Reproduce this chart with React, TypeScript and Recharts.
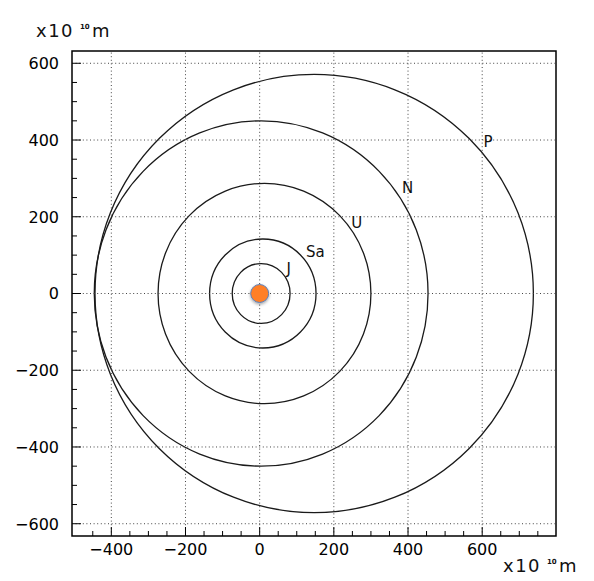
import {
  ScatterChart,
  Scatter,
  XAxis,
  YAxis,
  ReferenceArea,
  ReferenceLine,
} from "recharts";

// orbit extents, units of 10^10 m (perihelion on the left, sun at the focus)
const planets = ["Jupiter", "Saturn", "Uranus", "Neptune", "Pluto"];
const perihelion = [74, 135, 274, 446, 444];
const aphelion = [82, 152, 300, 454, 738];
const semiMinor = [78, 142, 287, 450, 571];

const labelText = ["J", "Sa", "U", "N", "P"];
const labelX = [78, 150, 262, 399, 616];
const labelY = [66, 109, 185, 275, 396];

const sun = [{ x: 0, y: 0 }];

const xTicks = [
  -450, -400, -350, -300, -250, -200, -150, -100, -50, 0, 50, 100, 150, 200,
  250, 300, 350, 400, 450, 500, 550, 600, 650, 700, 750,
];
const yTicks = [
  -600, -550, -500, -450, -400, -350, -300, -250, -200, -150, -100, -50, 0, 50,
  100, 150, 200, 250, 300, 350, 400, 450, 500, 550, 600,
];
const xGrid = [-400, -200, 0, 200, 400, 600];
const yGrid = [-600, -400, -200, 0, 200, 400, 600];

const xDomain: [number, number] = [-506, 799];
const yDomain: [number, number] = [-632, 632];

const FONT = "'DejaVu Sans', 'Liberation Sans', sans-serif";

const fmt = (v: number) => (v < 0 ? `\u2212${Math.abs(v)}` : `${v}`);

const XTick = (props: any) => {
  const { x, y, payload } = props;
  const major = payload.value % 200 === 0;
  return (
    <g>
      <line x1={x} y1={y} x2={x} y2={y - (major ? 9 : 5)} stroke="#000" />
      {major && (
        <text x={x} y={y + 18.5} textAnchor="middle" fontSize={16} fontFamily={FONT} fill="#000">
          {fmt(payload.value)}
        </text>
      )}
    </g>
  );
};

const YTick = (props: any) => {
  const { x, y, payload } = props;
  const major = payload.value % 200 === 0;
  return (
    <g>
      <line x1={x} y1={y} x2={x + (major ? 9 : 5)} y2={y} stroke="#000" />
      {major && (
        <text x={x - 13} y={y + 5.8} textAnchor="end" fontSize={16} fontFamily={FONT} fill="#000">
          {fmt(payload.value)}
        </text>
      )}
    </g>
  );
};

const UnitTitle = ({ x, y }: { x: number; y: number }) => (
  <g fontFamily={FONT} fill="#111">
    <text x={x} y={y} fontSize={18} letterSpacing={1.5}>
      x10
    </text>
    <text x={x + 44} y={y - 8.5} fontSize={7} fontWeight="bold">
      10
    </text>
    <text x={x + 56} y={y} fontSize={18}>
      m
    </text>
  </g>
);

const Orbit = (props: any) => {
  const { x, y, width, height } = props;
  return (
    <ellipse
      cx={x + width / 2}
      cy={y + height / 2}
      rx={width / 2}
      ry={height / 2}
      fill="none"
      stroke="#1a1a1a"
      strokeWidth={1.3}
    />
  );
};

const SunDot = (props: any) => {
  const { cx, cy } = props;
  return (
    <g>
      <defs>
        <filter id="sunShadow" x="-50%" y="-50%" width="200%" height="200%">
          <feDropShadow dx="0" dy="1.5" stdDeviation="1.5" floodColor="#000" floodOpacity="0.35" />
        </filter>
      </defs>
      <circle cx={cx} cy={cy} r={9} fill="#FF7F27" stroke="#5b7fb8" strokeWidth={1} filter="url(#sunShadow)" />
    </g>
  );
};

const labels = labelText.map((t, i) => ({ x: labelX[i], y: labelY[i], name: t }));

const LabelText = (props: any) => {
  const { cx, cy, payload } = props;
  return (
    <text x={cx} y={cy + 5.5} textAnchor="middle" fontSize={15} fontFamily={FONT} fill="#111">
      {payload.name}
    </text>
  );
};

export default function App() {
  return (
    <div style={{ position: "absolute", left: 0, top: 0 }}>
      <ScatterChart width={594} height={581} margin={{ top: 51, right: 38, bottom: 0, left: 0 }}>
        <XAxis
          type="number"
          dataKey="x"
          domain={xDomain}
          allowDataOverflow
          ticks={xTicks}
          interval={0}
          tickSize={0}
          tickMargin={0}
          axisLine={false}
          tick={<XTick />}
          height={45}
          label={{ content: () => <UnitTitle x={503} y={572} /> }}
        />
        <YAxis
          type="number"
          dataKey="y"
          domain={yDomain}
          allowDataOverflow
          ticks={yTicks}
          interval={0}
          tickSize={0}
          tickMargin={0}
          axisLine={false}
          tick={<YTick />}
          width={72}
          label={{ content: () => <UnitTitle x={36} y={37} /> }}
        />

        {xGrid.map((v) => (
          <ReferenceLine key={`gx${v}`} x={v} stroke="#444" strokeDasharray="1 2.6" />
        ))}
        {yGrid.map((v) => (
          <ReferenceLine key={`gy${v}`} y={v} stroke="#444" strokeDasharray="1 2.6" />
        ))}

        {planets.map((p, i) => (
          <ReferenceArea
            key={p}
            x1={-perihelion[i]}
            x2={aphelion[i]}
            y1={-semiMinor[i]}
            y2={semiMinor[i]}
            shape={<Orbit />}
          />
        ))}

        <Scatter data={sun} shape={<SunDot />} isAnimationActive={false} />
        <Scatter data={labels} shape={<LabelText />} isAnimationActive={false} />

        <ReferenceArea
          x1={xDomain[0]}
          x2={xDomain[1]}
          y1={yDomain[0]}
          y2={yDomain[1]}
          fill="none"
          fillOpacity={0}
          stroke="#000"
          strokeWidth={1.5}
        />
      </ScatterChart>
    </div>
  );
}
